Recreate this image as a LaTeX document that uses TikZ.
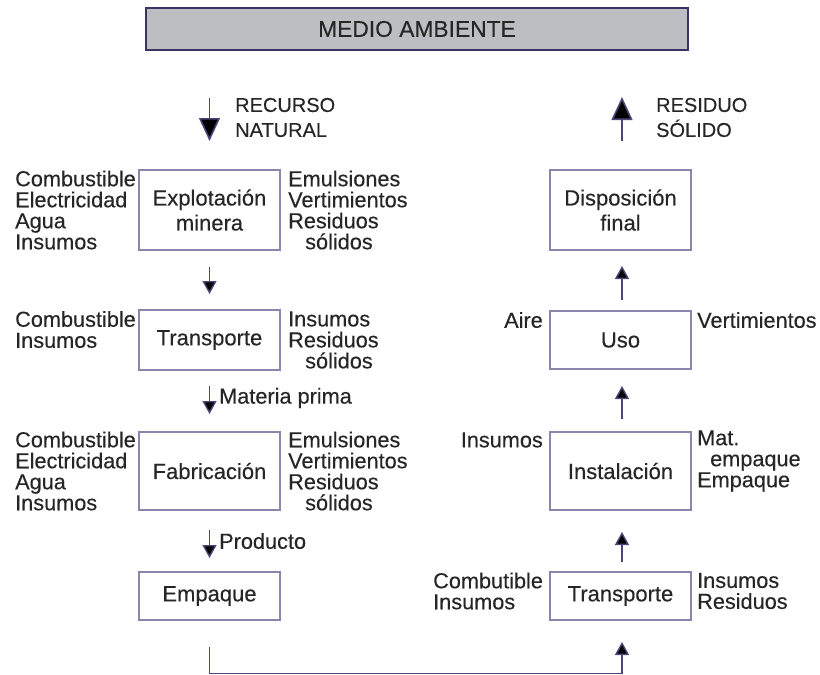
\documentclass[tikz,border=0pt]{standalone}
\usepackage{fontspec}
\setmainfont{Liberation Sans}
\newfontfamily\mainheavy{Liberation Sans}[FakeBold=0.3]
\usetikzlibrary{arrows.meta}
\definecolor{txt}{HTML}{262626}
\definecolor{boxc}{HTML}{8C84AA}
\definecolor{shaft}{HTML}{4E4478}
\definecolor{hdrfill}{HTML}{BDBEC1}
\definecolor{hdrline}{HTML}{3B3366}
\tikzset{
  lbl/.style={inner sep=0pt, text=txt, font=\mainheavy\fontsize{21.7}{21}\selectfont},
  lblL/.style={lbl, align=left},
  lblR/.style={lbl, align=right},
  stagebox/.style={draw=boxc, line width=1.3pt, inner sep=0pt, text=txt, align=center,
     font=\mainheavy\fontsize{22}{25}\selectfont, minimum width=141pt},
  hdr/.style={draw=hdrline, line width=2pt, fill=hdrfill, text=txt, minimum width=542pt,
     minimum height=42pt, font=\mainheavy\fontsize{22.8}{22.8}\selectfont},
  smallarr/.style={draw=shaft, line width=1.4pt, -{Triangle[width=14pt,length=13pt,fill=black]}},
  bigarr/.style={draw=shaft, line width=1.6pt, -{Triangle[width=21pt,length=23pt,fill=black]}},
  link/.style={draw=shaft, line width=1.2pt},
}
\begin{document}
\begin{tikzpicture}[x=1pt,y=-1pt]
\useasboundingbox (0,0) rectangle (820,675);
% header
\node[hdr] (env) at (417,29) {MEDIO AMBIENTE};
% left column boxes
\node[stagebox, minimum height=80pt] (exp) at (209.5,210) {Explotación\\minera};
\node[stagebox, minimum height=60pt] (tr1) at (209.5,340) {Transporte};
\node[stagebox, minimum height=78pt] (fab) at (209.5,471) {Fabricación};
\node[stagebox, minimum height=48pt] (emp) at (209.5,596) {Empaque};
% right column boxes
\node[stagebox, minimum height=80pt] (dis) at (620.5,210) {Disposición\\final};
\node[stagebox, minimum height=58pt] (uso) at (620.5,340) {Uso};
\node[stagebox, minimum height=78pt] (ins) at (620.5,471) {Instalación};
\node[stagebox, minimum height=48pt] (tr2) at (620.5,596) {Transporte};
% labels left column
\node[lblL, anchor=west] (expL) at (15,210) {Combustible\\Electricidad\\Agua\\Insumos};
\node[lblL, anchor=west] (expR) at (288,210) {Emulsiones\\Vertimientos\\Residuos\\\hspace*{17pt}sólidos};
\node[lblL, anchor=west] (tr1L) at (15,329.5) {Combustible\\Insumos};
\node[lblL, anchor=west] (tr1R) at (288,340) {Insumos\\Residuos\\\hspace*{17pt}sólidos};
\node[lblL, anchor=west] (fabL) at (15,471) {Combustible\\Electricidad\\Agua\\Insumos};
\node[lblL, anchor=west] (fabR) at (288,471) {Emulsiones\\Vertimientos\\Residuos\\\hspace*{17pt}sólidos};
% labels right column
\node[lblL, anchor=west] (tr2L) at (433,591) {Combutible\\Insumos};
\node[lblL, anchor=west] (tr2R) at (697,591) {Insumos\\Residuos};
\node[lblR, anchor=east] (insL) at (543,440) {Insumos};
\node[lblL, anchor=west] (insR) at (697,461) {Mat.\\\hspace*{13pt}empaque\\Empaque};
\node[lblR, anchor=east] (usoL) at (543,320) {Aire};
\node[lblL, anchor=west] (usoR) at (697,320) {Vertimientos};
% top arrows
\coordinate (rnA) at (209.5,98);
\coordinate (rnB) at (209.5,141);
\draw[bigarr] (rnA) -- (rnB);
\node[lblL, anchor=west, font=\mainheavy\fontsize{20}{25}\selectfont] (rn) at (235,117.5) {RECURSO\\NATURAL};
\coordinate (rsA) at (622,141);
\coordinate (rsB) at (622,97);
\draw[bigarr] (rsA) -- (rsB);
\node[lblL, anchor=west, font=\mainheavy\fontsize{20}{25}\selectfont] (rs) at (656,117.5) {RESIDUO\\SÓLIDO};
% left flow arrows
\coordinate (a1) at (209.5,267);
\coordinate (b1) at (209.5,294);
\draw[smallarr] (a1) -- (b1);
\coordinate (a2) at (209.5,386);
\coordinate (b2) at (209.5,414);
\draw[smallarr] (a2) -- (b2);
\node[lbl, anchor=west] (mp) at (219,398) {Materia prima};
\coordinate (a3) at (209.5,530);
\coordinate (b3) at (209.5,558);
\draw[smallarr] (a3) -- (b3);
\node[lbl, anchor=west] (pr) at (219,541) {Producto};
% right flow arrows
\coordinate (c1) at (622,300);
\coordinate (d1) at (622,266);
\draw[smallarr] (c1) -- (d1);
\coordinate (c2) at (622,419);
\coordinate (d2) at (622,386);
\draw[smallarr] (c2) -- (d2);
\coordinate (c3) at (622,562);
\coordinate (d3) at (622,532);
\draw[smallarr] (c3) -- (d3);
% bottom link
\coordinate (e0) at (209.5,647);
\coordinate (e1) at (209.5,673.5);
\coordinate (e2) at (622,673.5);
\coordinate (e3) at (622,642);
\draw[link] (e0) -- (e1) -- (e2);
\draw[smallarr] (e2) -- (e3);
\end{tikzpicture}
\end{document}
